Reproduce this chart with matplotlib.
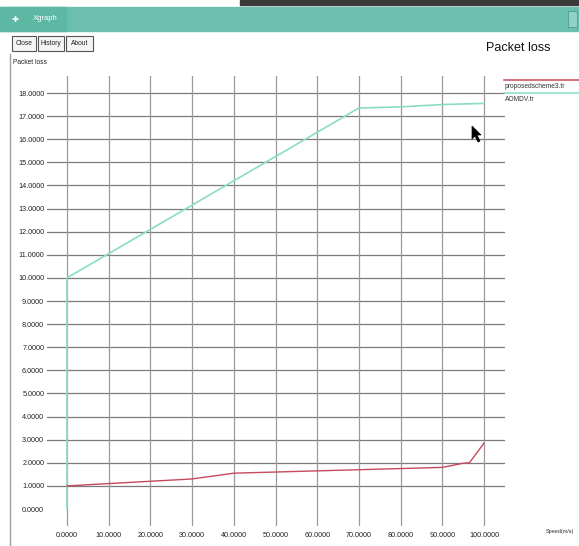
import matplotlib.pyplot as plt
from matplotlib.patches import Rectangle, Polygon
from matplotlib.lines import Line2D

# Packet loss vs speed, two trace files
speed_ticks = [0, 10, 20, 30, 40, 50, 60, 70, 80, 90, 100]
loss_ticks = list(range(0, 19))

aomdv_x = [0, 0, 10, 20, 30, 40, 50, 60, 70, 80, 90, 100]
aomdv_y = [0.0, 10.0, 11.05, 12.1, 13.15, 14.2, 15.25, 16.3, 17.35, 17.4, 17.5, 17.55]

proposed_x = [0, 10, 20, 30, 40, 50, 60, 70, 80, 90, 95, 96.5, 100]
proposed_y = [1.0, 1.1, 1.2, 1.3, 1.55, 1.6, 1.65, 1.7, 1.75, 1.8, 1.98, 2.0, 2.85]

series_names = ["proposedscheme3.tr", "AOMDV.tr"]

W, H = 579, 546
fig = plt.figure(figsize=(W / 100, H / 100), dpi=100)
plt.rcParams['font.family'] = ['Liberation Sans', 'DejaVu Sans']


def fx(px):
    return px / W


def fy(py):
    return 1 - py / H


# plot area in pixels, data origin at (67, 509), 100 at x=484, 18 at y=93
left, right, top, bottom = 47, 505, 76, 526
ax = fig.add_axes([fx(left), fy(bottom), fx(right - left), (bottom - top) / H])
xs = (484 - 67) / 100.0
ys = (509 - 93) / 18.0
ax.set_xlim((left - 67) / xs, (right - 67) / xs)
ax.set_ylim((509 - bottom) / ys, (509 - top) / ys)
for s in ax.spines.values():
    s.set_visible(False)
ax.set_facecolor('white')

for v in loss_ticks[1:]:
    ax.axhline(v, color='#7a7a7a', lw=0.9, zorder=1)
for v in speed_ticks:
    ax.axvline(v, color='#9a9a9a', lw=0.9, zorder=1)

ax.plot(aomdv_x, aomdv_y, color='#8adcc8', lw=1.2, zorder=3)
ax.plot(proposed_x, proposed_y, color='#c44a5c', lw=1.0, zorder=3)

ax.set_yticks(loss_ticks)
ax.set_yticklabels([f"{v:.4f}" for v in loss_ticks], fontsize=5.2, color='#222222')
ax.set_xticks(speed_ticks)
ax.set_xticklabels([f"{v:.4f}" for v in speed_ticks], fontsize=5.2, color='#222222')
ax.tick_params(axis='both', length=0)
ax.tick_params(axis='y', pad=2)
ax.tick_params(axis='x', pad=4)

# window title bar
fig.patches.append(Rectangle((0, fy(31)), 1, (31 - 7) / H, transform=fig.transFigure,
                             color='#6cbfae', zorder=0))
fig.patches.append(Rectangle((0, fy(31)), fx(66), (31 - 7) / H, transform=fig.transFigure,
                             color='#5cb8a2', zorder=0))
fig.patches.append(Rectangle((fx(240), fy(5)), fx(W - 240), 5 / H, transform=fig.transFigure,
                             color='#3a3a3a', zorder=0))
fig.patches.append(Rectangle((fx(568), fy(27)), fx(9), 16 / H, transform=fig.transFigure,
                             facecolor='#8fd3c4', edgecolor='#4f9d8c', lw=0.6, zorder=1))
fig.text(fx(11), fy(19), "✚", fontsize=6, color='white', va='center', family=['DejaVu Sans'])
fig.text(fx(33), fy(19), "Xgraph", fontsize=5.5, color='white', va='center')

# buttons
for x0, x1, label in [(12, 36, "Close"), (38, 64, "History"), (66, 93, "About")]:
    fig.patches.append(Rectangle((fx(x0), fy(51)), fx(x1 - x0), 15 / H, transform=fig.transFigure,
                                 facecolor='#f4f4f4', edgecolor='#555555', lw=0.8))
    fig.text(fx((x0 + x1) / 2), fy(43.5), label, fontsize=4.8, ha='center', va='center',
             color='#222222')

# left frame edge
fig.add_artist(Line2D([fx(10), fx(10)], [fy(54), 0], color='#a0a0a0', lw=1.0))

fig.text(fx(13), fy(62), "Packet loss", fontsize=4.8, va='center', color='#222222')
fig.text(fx(486), fy(48), "Packet loss", fontsize=9, va='center', color='#111111')
fig.text(fx(546), fy(532), "Speed(m/s)", fontsize=4.0, va='center', color='#333333')

# legend
for i, (name, col) in enumerate(zip(series_names, ['#c44a5c', '#8adcc8'])):
    y = 80 + i * 13
    fig.add_artist(Line2D([fx(504), 1], [fy(y), fy(y)], color=col, lw=1.1))
    fig.text(fx(505), fy(y + 6.5), name, fontsize=4.8, va='center', color='#333333')

# mouse pointer
pointer = [(472, 126), (472, 139), (475, 136), (478, 142), (480, 141), (477, 135), (481, 135)]
fig.patches.append(Polygon([(fx(a), fy(b)) for a, b in pointer], closed=True,
                           transform=fig.transFigure, facecolor='black', edgecolor='black',
                           lw=0.5, zorder=5))

fig.savefig("out.png", dpi=100, facecolor='white')
